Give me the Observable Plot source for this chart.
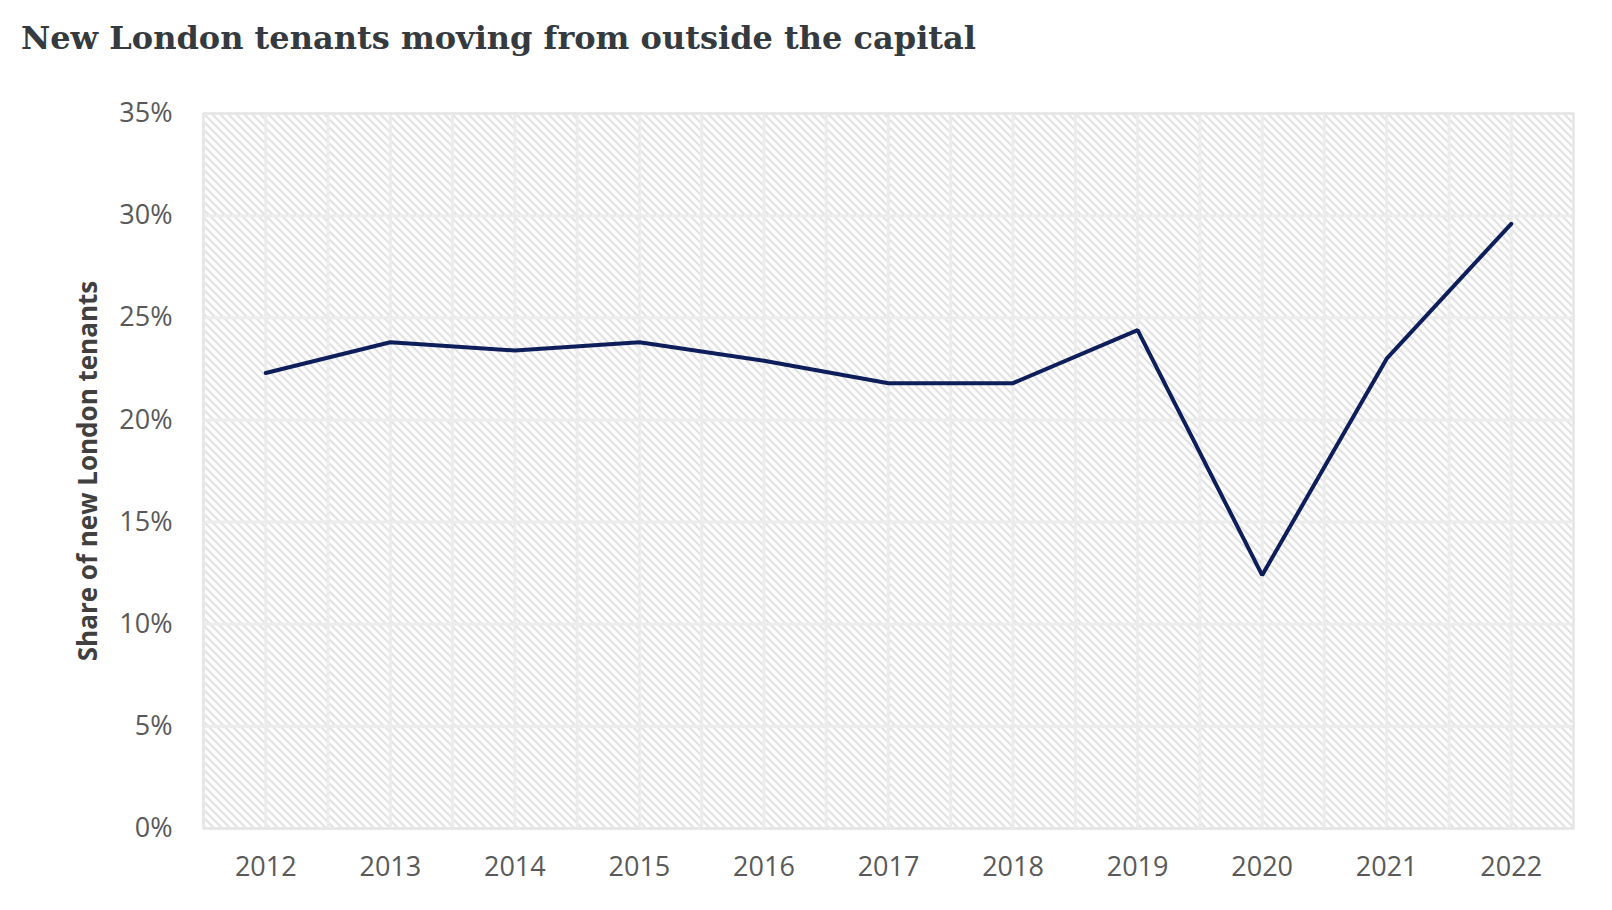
<!DOCTYPE html>
<html>
<head>
<meta charset="utf-8">
<script src="https://cdn.jsdelivr.net/npm/d3@7"></script>
<script src="https://cdn.jsdelivr.net/npm/@observablehq/plot@0.6"></script>
<style>
  html, body { margin: 0; padding: 0; background: #fff; }
  #title {
    height: 70px; box-sizing: border-box; padding: 20px 0 0 21px;
    font-family: "DejaVu Serif", serif; font-weight: bold; font-size: 32px;
    line-height: 36px; color: #353a3f; white-space: nowrap;
  }
  svg { display: block; }
</style>
</head>
<body>
<div id="title">New London tenants moving from outside the capital</div>
<div id="chart"></div>
<script>
const years = [2012, 2013, 2014, 2015, 2016, 2017, 2018, 2019, 2020, 2021, 2022];
const shares = [22.3, 23.8, 23.4, 23.8, 22.9, 21.8, 21.8, 24.4, 12.4, 23.0, 29.6];
const yTicks = [0, 5, 10, 15, 20, 25, 30, 35];
const yLabel = "Share of new London tenants";

const data = years.map((year, i) => ({year, share: shares[i]}));
const halfSteps = d3.range(years[0] - 0.5, years[years.length - 1] + 0.51, 0.5);

const chart = Plot.plot({
  width: 1612,
  height: 840,
  marginTop: 43,
  marginBottom: 82,
  marginLeft: 203,
  marginRight: 39,
  style: {background: "white"},
  x: {type: "linear", domain: [years[0] - 0.5, years[years.length - 1] + 0.5]},
  y: {domain: [0, 35]},
  marks: [
    Plot.frame({fill: "url(#hatch)", stroke: null}),
    Plot.ruleX(halfSteps, {stroke: "#ececec", strokeWidth: 3}),
    Plot.ruleY(yTicks, {stroke: "#ececec", strokeWidth: 3}),
    Plot.frame({stroke: "#e6e6e6", strokeWidth: 2}),
    Plot.axisX({
      ticks: years, tickFormat: d => String(d), tickSize: 0, tickPadding: 28,
      fontSize: 27, fontFamily: "Open Sans", color: "#595959", label: null
    }),
    Plot.axisY({
      ticks: yTicks, tickFormat: d => d + "%", tickSize: 0, tickPadding: 31,
      fontSize: 27, fontFamily: "Open Sans", color: "#595959", label: null
    }),
    Plot.text([yLabel], {
      frameAnchor: "left", dx: -115, rotate: -90, text: d => d, textAnchor: "middle",
      fontSize: 26, fontWeight: "bold", fontFamily: "Open Sans", fill: "#404040"
    }),
    Plot.line(data, {x: "year", y: "share", stroke: "#0e1e5b", strokeWidth: 4, strokeLinejoin: "miter"})
  ]
});

const ns = "http://www.w3.org/2000/svg";
const defs = document.createElementNS(ns, "defs");
defs.innerHTML = `<pattern id="hatch" patternUnits="userSpaceOnUse" width="8" height="8">
  <rect width="8" height="8" fill="#ffffff"/>
  <path d="M-2,6 L2,10 M0,0 L8,8 M6,-2 L10,2" stroke="#d9d9d9" stroke-width="1.6"/>
</pattern>`;
chart.insertBefore(defs, chart.firstChild);
document.getElementById("chart").appendChild(chart);
</script>
</body>
</html>
